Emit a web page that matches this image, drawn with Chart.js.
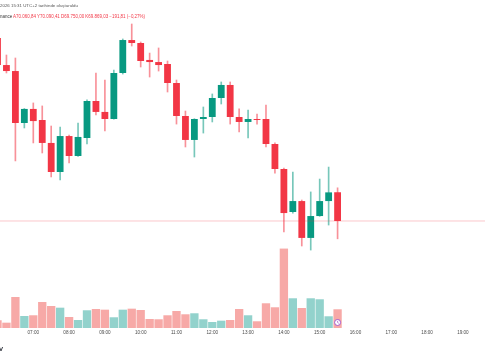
<!DOCTYPE html>
<html><head><meta charset="utf-8">
<script src="https://cdn.jsdelivr.net/npm/chart.js@4"></script>
<style>
html,body{margin:0;padding:0;background:#fff;overflow:hidden}
#wrap{position:relative;width:485px;height:360px}
canvas{position:absolute;left:0;top:0}
.t{position:absolute;white-space:nowrap;font-family:"Liberation Sans",Arial,sans-serif;line-height:1;transform-origin:0 0}
.r{color:#f23645}
</style></head><body>
<div id="wrap">
<canvas id="c" width="485" height="360"></canvas>
<div class="t fit" data-w="78" style="left:0;top:3.2px;font-size:10px;color:#555">2026 15:31 UTC+2 tarihinde oluşturuldu</div>
<div class="t fit" data-w="145" style="left:0;top:13.5px;font-size:10px;"><span style="color:#333">nance</span> <span class="r">A70.060,84</span> <span class="r">Y70.090,41</span> <span class="r">D69.750,00</span> <span class="r">K69.869,03</span> <span class="r">−191,81 (−0,27%)</span></div>
<div class="t" style="left:-1px;top:346px;font-size:6px;font-weight:bold;color:#131722">V</div>
</div>
<script>
document.querySelectorAll('.fit').forEach(el => {
  const w = el.getBoundingClientRect().width;
  el.style.transform = 'scale(' + (Number(el.dataset.w) / w) + ')';
});

const times = ['06:00','06:15','06:30','06:45','07:00','07:15','07:30','07:45','08:00','08:15','08:30','08:45','09:00','09:15','09:30','09:45','10:00','10:15','10:30','10:45','11:00','11:15','11:30','11:45','12:00','12:15','12:30','12:45','13:00','13:15','13:30','13:45','14:00','14:15','14:30','14:45','15:00','15:15','15:30'];
const opens  = [71090,70910,70870,70523,70617,70543,70390,70196,70436,70303,70423,70670,70597,70550,70857,71077,71057,70944,70930,70917,70790,70570,70410,70550,70563,70690,70777,70563,70530,70550,70550,70383,70216,69929,70002,69756,69902,70002,70060.84];
const highs  = [71144,70977,70957,70620,70657,70637,70503,70496,70443,70523,70677,70857,70810,70877,71084,71184,71064,70990,71024,70937,70810,70603,70552,70630,70717,70797,70797,70617,70610,70583,70643,70390,70223,70196,70009,70063,70149,70229,70090.41];
const lows   = [70897,70857,70270,70490,70390,70323,70163,70143,70256,70300,70383,70577,70470,70548,70850,71037,70897,70830,70870,70730,70516,70363,70296,70456,70530,70650,70516,70463,70423,70516,70363,70189,69796,69922,69702,69675,69900,69842,69750.00];
const closes = [70910,70870,70523,70617,70536,70390,70196,70436,70303,70430,70670,70597,70550,70857,71077,71057,70937,70930,70910,70790,70570,70410,70550,70563,70690,70777,70563,70530,70550,70543,70383,70216,69922,70002,69756,69902,70002,70060,69869.03];
const volumes = [77,53,310,120,127,260,220,203,110,80,177,190,183,107,183,193,180,90,87,127,170,137,147,87,60,73,80,190,127,67,247,207,794,297,200,297,287,117,187];
const tickLabels = ['07:00','08:00','09:00','10:00','11:00','12:00','13:00','14:00','15:00','16:00','17:00','18:00','19:00'];

const toH = s => { const [h,m] = s.split(':').map(Number); return h + m/60; };
const xs = times.map(toH);
const tickVals = tickLabels.map(toH);
const up = i => closes[i] >= opens[i];
const RED = '#f23645', GREEN = '#089981';
const xMin = 6.07, xMax = 19.618;
const lastClose = closes[closes.length-1];

const iconPlugin = {
  id: 'icon',
  afterDatasetsDraw(chart) {
    const {ctx, chartArea, scales} = chart;
    const x = scales.x.getPixelForValue(xs[xs.length-1]);
    const y = chartArea.bottom - 5.5;
    ctx.save();
    ctx.beginPath(); ctx.arc(x, y, 3, 0, Math.PI*2);
    ctx.fillStyle = '#fff'; ctx.fill();
    ctx.lineWidth = 0.9; ctx.strokeStyle = '#9c4dcc'; ctx.stroke();
    ctx.beginPath(); ctx.moveTo(x, y-1.6); ctx.lineTo(x, y); ctx.lineTo(x+1.2, y+0.8);
    ctx.lineWidth = 0.7; ctx.stroke();
    ctx.restore();
  }
};

new Chart(document.getElementById('c'), {
  data: {
    datasets: [
      { type:'line', data:[{x:xMin,y:lastClose},{x:xMax,y:lastClose}], yAxisID:'y',
        borderColor:'rgba(242,54,69,0.28)', borderWidth:1, pointRadius:0, pointHoverRadius:0, pointHitRadius:0, order:0 },
      { type:'bar', data: xs.map((x,i)=>({x, y:[opens[i], closes[i]]})), yAxisID:'y',
        backgroundColor: xs.map((_,i)=> up(i)?GREEN:RED), borderWidth:0, minBarLength:1,
        grouped:false, barPercentage:0.76, categoryPercentage:1, order:1 },
      { type:'bar', data: xs.map((x,i)=>({x, y:[lows[i], highs[i]]})), yAxisID:'y',
        backgroundColor: xs.map((_,i)=> up(i)?'rgba(8,153,129,0.55)':'rgba(242,54,69,0.55)'), borderWidth:0,
        grouped:false, barThickness:1, order:2 },
      { type:'bar', data: xs.map((x,i)=>({x, y:volumes[i]})), yAxisID:'yv',
        backgroundColor: xs.map((_,i)=> up(i)?'rgba(38,166,154,0.5)':'rgba(239,83,80,0.5)'), borderWidth:0,
        grouped:false, barPercentage:0.93, categoryPercentage:1, order:3 }
    ]
  },
  options: {
    responsive:false, animation:false, devicePixelRatio:1,
    events:[],
    layout:{ autoPadding:false, padding:{ left:0, right:0, top:0, bottom:22.5 } },
    plugins:{ legend:{display:false}, tooltip:{enabled:false} },
    scales:{
      x:{ type:'linear', min:xMin, max:xMax, offset:false,
          grid:{display:false, drawTicks:false}, border:{display:false},
          afterBuildTicks: s => { s.ticks = tickVals.map(v=>({value:v})); },
          ticks:{ autoSkip:false, maxRotation:0, padding:2, color:'#4a4a4a',
                  font:{ family:'"Liberation Sans", Arial, sans-serif', size:4.6 },
                  callback: v => { const i = tickVals.findIndex(t=>Math.abs(t-v)<1e-6); return i>=0 ? tickLabels[i] : ''; } } },
      y:{ display:false, min:69154.8, max:71344.2 },
      yv:{ display:false, min:0, max:3280 }
    }
  },
  plugins:[iconPlugin]
});
</script>
</body></html>
